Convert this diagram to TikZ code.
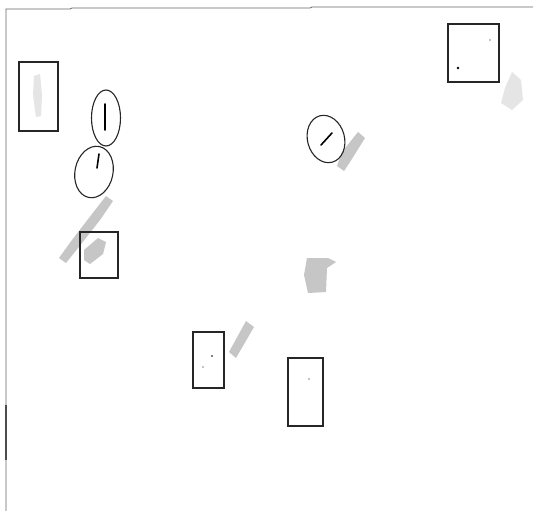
\documentclass[tikz,border=0pt]{standalone}
\usepackage{tikz}
\begin{document}
\begin{tikzpicture}[x=1pt,y=-1pt,
  box/.style={draw=black!85,line width=1.2pt},
  oval/.style={draw=black!85,line width=1.1pt},
  frame/.style={draw=black!60,line width=0.8pt},
  blob/.style={fill=gray!45,draw=none},
  lightblob/.style={fill=gray!20,draw=none},
  strokemark/.style={draw=black,line width=1.6pt,line cap=round}]
\useasboundingbox[fill=white] (0,0) rectangle (533,511);
% frame
\draw[frame] (6,511) -- (6,9) -- (70,9) -- (72,8) -- (310,8) -- (312,7) -- (533,7);
\draw[line width=1.3pt,black!70] (6,405) -- (6,460);
% grey blobs (behind)
\fill[lightblob] (34,76) -- (40,74) -- (42,95) -- (41,116) -- (36,117) -- (33,95) -- cycle;
\fill[blob] (106,196) -- (113,201) -- (100,220) -- (82,243) -- (66,263) -- (59,258) -- (72,240) -- (92,214) -- cycle;
\fill[blob] (84,250) -- (98,238) -- (106,242) -- (103,254) -- (90,264) -- (84,260) -- cycle;
\fill[blob] (358,132) -- (365,138) -- (350,162) -- (344,171) -- (337,166) -- (342,152) -- cycle;
\fill[blob] (246,321) -- (254,327) -- (236,358) -- (229,352) -- cycle;
\fill[blob] (307,258) -- (328,258) -- (336,262) -- (327,268) -- (326,292) -- (308,293) -- (304,275) -- cycle;
\fill[lightblob] (512,72) -- (521,80) -- (523,100) -- (512,110) -- (501,103) -- (505,88) -- cycle;
% boxes
\node[box,inner sep=0pt,minimum width=39pt,minimum height=69pt] (b1) at (38.5,96.5) {};
\node[box,inner sep=0pt,minimum width=38pt,minimum height=46pt] (b2) at (99,255) {};
\node[box,inner sep=0pt,minimum width=51pt,minimum height=58pt] (b3) at (473.5,53) {};
\node[box,inner sep=0pt,minimum width=31pt,minimum height=56pt] (b4) at (208.5,360) {};
\node[box,inner sep=0pt,minimum width=35pt,minimum height=68pt] (b5) at (305.5,392) {};
% ovals
\draw[oval] (106,118) ellipse [x radius=14.5pt, y radius=28pt];
\draw[oval,rotate around={-12:(94,172)}] (94,172) ellipse [x radius=19pt, y radius=26pt];
\draw[oval,rotate around={15:(326,139)}] (326,139) ellipse [x radius=18.5pt, y radius=24pt];
% marks
\draw[strokemark] (105,104) -- (105,130);
\draw[strokemark] (99,154) -- (97,168);
\draw[strokemark] (321,145) -- (332,133);
\fill (458,68) circle (1.3pt);
\fill (490,40) circle (0.7pt);
\fill (212,356) circle (0.9pt);
\fill (203,367) circle (0.7pt);
\fill (309,379) circle (0.7pt);
\end{tikzpicture}
\end{document}
